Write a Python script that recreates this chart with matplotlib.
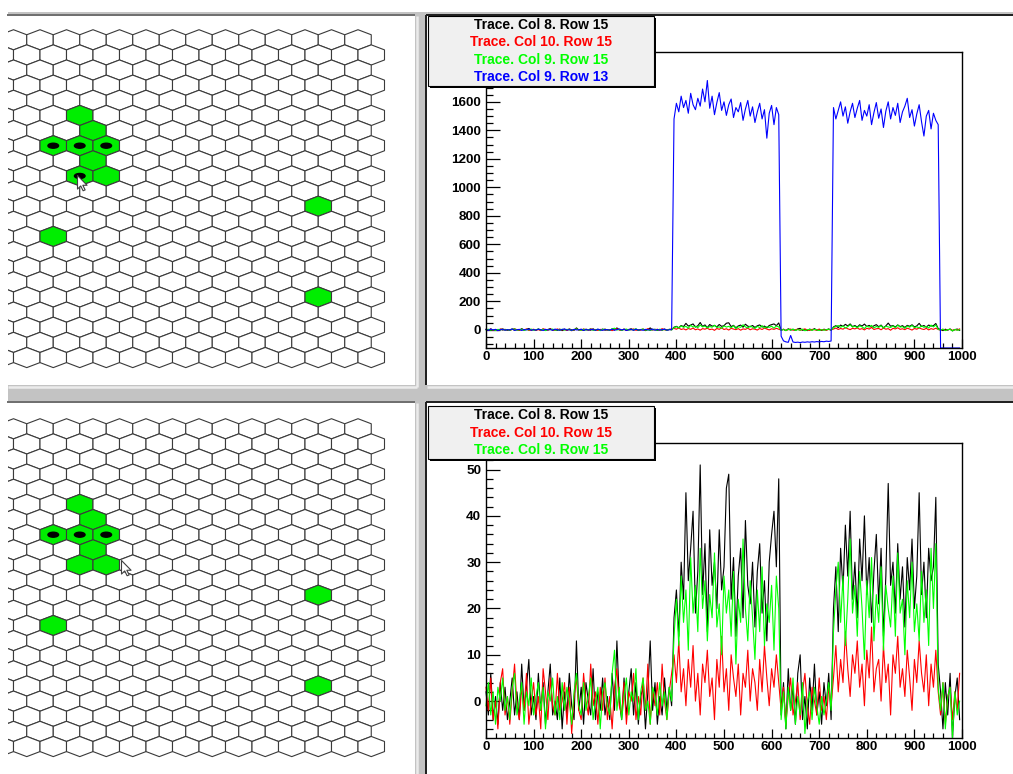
import numpy as np
import matplotlib
matplotlib.use('Agg')
import matplotlib.pyplot as plt
from matplotlib.patches import Rectangle, Ellipse
from matplotlib.collections import PolyCollection
from matplotlib.path import Path
from matplotlib.ticker import MultipleLocator

plt.rcParams['font.family'] = ['Liberation Sans', 'DejaVu Sans']
plt.rcParams['font.weight'] = 'bold'

W, H = 1013, 774

# ---- detector map -------------------------------------------------------
n_rows = 22
fired_cells = [(1, 5), (2, 6), (0, 7), (1, 7), (2, 7), (2, 8), (1, 9), (2, 9),
               (10, 11), (0, 13), (10, 17)]          # (col, row)
marked_top = [(0, 7), (1, 7), (2, 7), (1, 9)]
marked_bottom = [(0, 7), (1, 7), (2, 7)]

# ---- traces (every 5th sample) ------------------------------------------
sample = np.arange(0, 1000, 5)

trace_c8r15 = [
    2, -3, 6, -4, 1, -5, 4, -2, 3, -4,
    0, 5, -3, 2, -4, 8, -2, 3, 9, -3,
    1, -4, 6, -2, 4, -5, 2, 8, -3, 0,
    -4, 5, -6, 2, -3, 6, -1, -4, 13, -2,
    3, -5, 4, 0, -3, 7, -4, 2, -2, 5,
    -3, 1, -4, 6, -2, 13, 0, -4, 5, -3,
    2, 7, -3, 4, -5, 1, 3, -6, 2, 13,
    -2, 4, -5, 1, -3, 5, -2, 3, -1,
    18, 24, 14, 30, 22, 45, 26, 33, 41, 19,
    28, 51, 23, 34, 15, 37, 25, 30, 20, 37,
    24, 29, 46, 49, 22, 31, 14, 27, 33, 18,
    39, 25, 21, 30, 16, 28, 34, 19, 26, 13,
    30, 36, 41, 29, 48,
    -3, 4, -6, 7, -2, 3, -5, 6, 10, -4,
    1, -6, 5, -2, 8, -3, 2, -5, 4, -1, 6, -4,
    20, 29, 15, 33, 24, 38, 27, 41, 22, 30,
    18, 35, 26, 40, 23, 31, 17, 28, 36, 21,
    33, 14, 27, 47, 25, 30, 19, 34, 22, 29,
    16, 31, 24, 35, 20, 27, 45, 23, 30, 18,
    33, 26, 29, 44, 8,
    2, -6, 4, -3, 6, -8, 1, 5, -4]

trace_c10r15 = [
    3, -2, 5, -4, 0, -6, 4, 7, -3, 1,
    -5, 2, 8, -1, -4, 3, -2, 6, -5, 0,
    4, -3, 1, -6, 7, 2, -4, 5, -1, -3,
    6, -2, 0, 4, -5, 3, -7, 1, 5, -2,
    -4, 6, 0, -3, 8, -1, 2, -5, 3, -2,
    5, -4, 1, -6, 3, 7, -1, -3, 4, -5,
    2, 0, 6, -4, 1, -3, 5, -2, 8, -5,
    3, -1, 4, -3, 8, 0, -4, 2, 6,
    10, 4, 13, 2, 7, -1, 9, 3, 12, 0,
    6, -3, 8, 4, 11, 1, 5, -4, 9, 3,
    14, 2, 7, -2, 10, 5, 1, 8, -3, 6,
    3, 11, 0, 7, 4, -2, 9, 2, 12, 5,
    -1, 7, 3, 10, 4,
    -2, 3, -5, 1, 5, -3, 0, 4, -4, 2,
    6, -1, -5, 3, 0, -3, 5, -2, 1, -4, 3, -1,
    5, 12, 2, 9, 4, 15, 7, 1, 10, 6,
    13, 3, 8, -1, 11, 5, 16, 2, 7, 9,
    0, 12, 4, 8, -3, 10, 6, 14, 3, 7,
    1, 11, 5, -2, 9, 4, 13, 6, 2, 10,
    -1, 8, 3, 11, 2,
    -3, 4, -5, 1, 3, -4, 2, -2, 6]

trace_c9r15 = [
    -1, 4, -3, 2, -5, 3, 0, 5, -2, 1,
    -4, 3, 6, -3, 0, 4, -5, 2, -1, 5,
    -3, 1, 4, -2, 3, -6, 2, 0, 5, -3,
    1, -4, 4, -2, 3, 0, -5, 2, 6, -1,
    -3, 4, -2, 1, 5, -4, 0, 3, -6, 2,
    4, -1, -3, 6, 11, -2, 3, -4, 1, 5,
    -3, 2, 0, 7, -4, 2, 5, -2, 0, -5,
    3, 1, -3, 4, -1, 2, -4, 3, 0,
    14, 22, 12, 27, 17, 24, 11, 31, 19, 25,
    15, 33, 20, 26, 13, 23, 18, 32, 16, 21,
    10, 27, 19, 24, 14, 28, 8, 22, 17, 35,
    20, 13, 26, 18, 9, 24, 15, 29, 12, 21,
    17, 25, 11, 27, 20,
    -4, 2, -6, 3, -2, 5, -5, 1, -3, 4,
    -7, 0, 2, -4, 3, -1, -5, 1, -3, 0, 4, -2,
    15, 24, 30, 17, 27, 12, 22, 35, 19, 25,
    14, 28, 20, 9, 26, 18, 31, 13, 23, 17,
    29, 11, 25, 20, 16, 27, 14, 32, 19, 22,
    10, 26, 18, 30, 15, 21, 13, 28, 17, 24,
    12, 33, 20, 34, 3,
    -2, 4, -6, 1, 3, -8, 2, -3, 0]

trace_c9r13 = [
    2, -4, 5, -1, 3, -6, 0, 4, -3, 1,
    -2, 6, -4, 0, 3, -5, 2, -1, 5, -3,
    1, -2, 4, 0, -5, 3, -1, 2, -4, 5,
    0, -3, 2, 6, -2, 1, -4, 3, -1, 0,
    4, -5, 2, -2, 3, 1, -3, 5, -1, -4,
    2, 0, -2, 4, -3, 1, 6, -1, 3, -5,
    0, 2, -3, 4, -2, 1, -4, 3, 0, -1,
    5, -3, 2, -2, 1, 4, -3, 0, 2,
    1480, 1590, 1530, 1640, 1560, 1610, 1520, 1660, 1580, 1545,
    1625, 1570, 1690, 1600, 1750, 1555, 1640, 1510, 1595, 1665,
    1540, 1600, 1505, 1580, 1620, 1490, 1560, 1530, 1595, 1470,
    1550, 1610, 1500, 1565, 1455, 1530, 1590, 1480, 1545, 1345,
    1520, 1575, 1440, 1560, 1510,
    -45, -78, -85, -88, -40, -86, -89, -87, -90, -86,
    -88, -85, -87, -84, -86, -83, -85, -82, -84, -80, -82, -79,
    1560, 1480, 1540, 1600, 1500, 1565, 1450, 1530, 1590, 1490,
    1555, 1610, 1470, 1540, 1500, 1580, 1440, 1525, 1595, 1485,
    1550, 1420, 1535, 1600, 1480, 1560, 1505, 1590, 1455, 1530,
    1570, 1625, 1490, 1545, 1430, 1515, 1580, 1460, 1360, 1500,
    1540, 1410, 1520, 1470, 1440,
    -150, -150, -150, -150, -150, -150, -150, -150, -150]

top_traces = [trace_c8r15, trace_c10r15, trace_c9r15, trace_c9r13]
top_labels = ['Trace. Col 8. Row 15', 'Trace. Col 10. Row 15',
              'Trace. Col 9. Row 15', 'Trace. Col 9. Row 13']
trace_colors = ['black', '#ff0000', '#00ff00', '#0000ff']

fig = plt.figure(figsize=(W / 100, H / 100), dpi=100)
fig.patch.set_facecolor('white')


def frac(x0, y0, x1, y1):
    # pixel box (y down) -> figure fraction rect
    return [x0 / W, 1 - y1 / H, (x1 - x0) / W, (y1 - y0) / H]


# ---- canvas: grey frame and sunken pads ---------------------------------
canvas = fig.add_axes([0, 0, 1, 1], zorder=-1)
canvas.set_xlim(0, W)
canvas.set_ylim(H, 0)
canvas.axis('off')
canvas.add_patch(Rectangle((8, 12), W - 8, H - 12, facecolor='#c3c3c3', lw=0))

pads = [((8, 16, 415, 385), '#6e6e6e', False), ((427, 16, W, 385), '#1e1e1e', True),
        ((8, 403, 415, H), '#6e6e6e', False), ((427, 403, W, H), '#1e1e1e', True)]
for (x0, y0, x1, y1), dark, left_edge in pads:
    canvas.add_patch(Rectangle((x0, y0), x1 - x0, y1 - y0, facecolor='white', lw=0))
    canvas.plot([x0 - 1.5, x1], [y0 - 1, y0 - 1], color=dark, lw=1.4, solid_capstyle='butt')
    if left_edge:
        canvas.plot([x0 - 1, x0 - 1], [y0 - 1.5, y1], color=dark, lw=1.4, solid_capstyle='butt')
    canvas.plot([x0, x1 + 2], [y1 + 1.5, y1 + 1.5], color='#ebebeb', lw=1.8, solid_capstyle='butt')
    canvas.plot([x1 + 1.5, x1 + 1.5], [y0, y1 + 2], color='#ebebeb', lw=1.8, solid_capstyle='butt')

# ---- hexagonal maps -----------------------------------------------------
HX0, HDX, HDY = 40.0, 26.5, 15.13
hex_a = 2.0 / 3.0
hex_shape = np.array([[0, -hex_a], [0.5, -hex_a / 2], [0.5, hex_a / 2],
                      [0, hex_a], [-0.5, hex_a / 2], [-0.5, -hex_a / 2]])
cursor = Path([(0, 0), (0, -16), (3.8, -12.3), (6.6, -18), (9, -17),
               (6.3, -11.5), (11.3, -11.5), (0, 0)],
              [Path.MOVETO] + [Path.LINETO] * 6 + [Path.CLOSEPOLY])


def cell_xy(col, row):
    return col + 0.5 * (row % 2), row


def draw_map(box, row0_px, marked, cursor_at):
    x0, y0, x1, y1 = box
    ax = fig.add_axes(frac(*box))
    ax.set_xlim((x0 - HX0) / HDX, (x1 - HX0) / HDX)
    ax.set_ylim((y1 - row0_px) / HDY, (y0 - row0_px) / HDY)
    ax.axis('off')
    ax.patch.set_alpha(0)
    polys, faces = [], []
    for row in range(n_rows):
        cols = range(-1, 13) if row % 2 == 0 else range(-2, 13)
        for col in cols:
            cx, cy = cell_xy(col, row)
            polys.append(hex_shape + [cx, cy])
            faces.append('#00ee00' if (col, row) in fired_cells else 'white')
    ax.add_collection(PolyCollection(polys, facecolors=faces, edgecolors='#3a3a3a',
                                     linewidths=0.8))
    for col, row in marked:
        cx, cy = cell_xy(col, row)
        ax.add_patch(Ellipse((cx, cy), 0.4, 0.33, color='black', zorder=3))
    ax.plot(*cursor_at, marker=cursor, ms=22, mfc='white', mec='#404040',
            mew=0.8, zorder=5, clip_on=False)


draw_map((8, 16, 415, 385), 39.8, marked_top, (1.385, 8.94))
draw_map((8, 403, 415, H), 428.8, marked_bottom, (3.045, 8.67))


# ---- trace plots --------------------------------------------------------
def style(ax, ylim, yticks, ymin):
    ax.set_xlim(0, 1000)
    ax.set_ylim(*ylim)
    ax.xaxis.set_major_locator(MultipleLocator(100))
    ax.xaxis.set_minor_locator(MultipleLocator(20))
    ax.set_yticks(yticks)
    ax.yaxis.set_minor_locator(MultipleLocator(ymin))
    for s in ax.spines.values():
        s.set_linewidth(1.0)
        s.set_zorder(4)
    ax.tick_params(which='both', direction='in', labelsize=9.7, width=0.9)
    ax.tick_params(axis='y', which='major', length=10, pad=3.5)
    ax.tick_params(axis='y', which='minor', length=5)
    ax.tick_params(axis='x', which='major', length=6.7, pad=2.5)
    ax.tick_params(axis='x', which='minor', length=3.3)


ax_top = fig.add_axes(frac(486, 52, 962, 348))
# the legend box sits over the upper end of this axis
style(ax_top, (-128, 1950), np.arange(0, 1601, 200), 50)
for tr, c in zip(top_traces, trace_colors):
    ax_top.plot(sample, np.clip(tr, -128, 1950), color=c, lw=0.8, zorder=3, clip_on=False)

ax_bot = fig.add_axes(frac(486, 442.7, 962, 737.7))
style(ax_bot, (-7.9, 55.8), np.arange(0, 51, 10), 2)
for tr, c in zip(top_traces[:3], trace_colors[:3]):
    ax_bot.plot(sample, np.clip(tr, -7.9, 55.8), color=c, lw=0.8, zorder=3, clip_on=False)

# ---- legends ------------------------------------------------------------
overlay = fig.add_axes([0, 0, 1, 1], zorder=10)
overlay.set_xlim(0, W)
overlay.set_ylim(H, 0)
overlay.axis('off')
overlay.patch.set_alpha(0)

line_h = 17.6
for top, n in [(15.5, 4), (406.0, 3)]:
    h = n * line_h + 0.5
    overlay.add_patch(Rectangle((429.5, top + 2), 226, h, facecolor='black', lw=0))
    overlay.add_patch(Rectangle((427.5, top), 226, h, facecolor='#f0f0f0',
                                edgecolor='black', lw=0.8))
    for i in range(n):
        overlay.text(541, top + (i + 0.5) * line_h + 0.3, top_labels[i],
                     color=trace_colors[i], fontsize=10, fontweight='bold',
                     ha='center', va='center')

fig.savefig('out.png', dpi=100)
